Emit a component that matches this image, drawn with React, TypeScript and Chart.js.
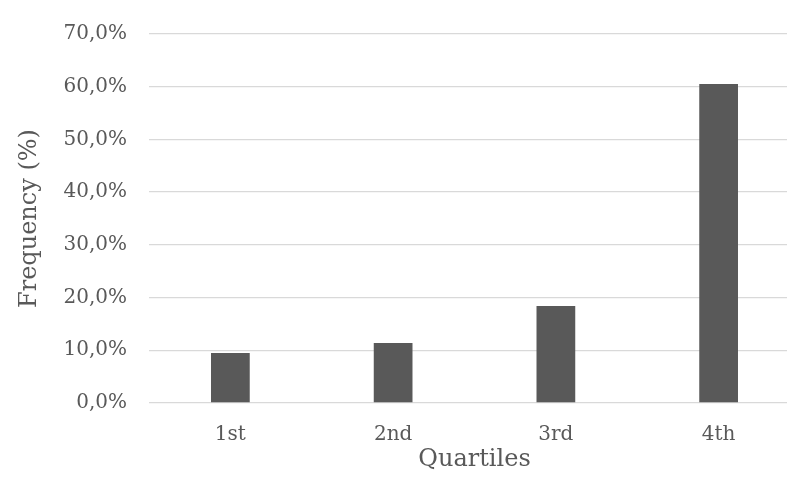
import React, { useEffect, useRef } from "react";
import { Chart, registerables } from "chart.js";

Chart.register(...registerables);

const categories = ["1st", "2nd", "3rd", "4th"];
const frequency = [9.5, 11.4, 18.4, 60.5];
const yTicks = [0, 10, 20, 30, 40, 50, 60, 70];
const xTitle = "Quartiles";
const yTitle = "Frequency (%)";

const FONT = "'DejaVu Serif', serif";
const TEXT = "#595959";

export default function App() {
  const ref = useRef<HTMLCanvasElement | null>(null);
  useEffect(() => {
    if (!ref.current) return;
    const chart = new Chart(ref.current, {
      type: "bar",
      data: {
        labels: categories,
        datasets: [
          {
            data: frequency,
            backgroundColor: "#595959",
            borderWidth: 0,
            categoryPercentage: 1,
            barPercentage: 0.238,
          },
        ],
      },
      options: {
        animation: false,
        responsive: false,
        devicePixelRatio: 1,
        layout: { padding: { top: 27, left: 0, right: 0, bottom: 0 } },
        plugins: { legend: { display: false }, tooltip: { enabled: false } },
        scales: {
          x: {
            afterFit: (s: any) => {
              s.height = 74;
            },
            grid: { display: false, drawTicks: false },
            border: { display: false },
            ticks: { color: TEXT, font: { family: FONT, size: 20 }, padding: 20 },
            title: {
              display: true,
              text: xTitle,
              color: TEXT,
              font: { family: FONT, size: 24 },
              padding: { top: 0, bottom: 3 },
            },
          },
          y: {
            min: 0,
            max: 70,
            afterFit: (s: any) => {
              s.width = 149;
            },
            afterBuildTicks: (axis: any) => {
              axis.ticks = yTicks.map((v) => ({ value: v }));
            },
            grid: { color: "#d9d9d9", lineWidth: 1.3, drawTicks: false },
            border: { display: false },
            ticks: {
              color: TEXT,
              font: { family: FONT, size: 20 },
              padding: 22,
              callback: (v: any) => Number(v).toFixed(1).replace(".", ",") + "%",
            },
            title: {
              display: true,
              text: yTitle,
              color: TEXT,
              font: { family: FONT, size: 24 },
              padding: { top: 15, bottom: 0 },
            },
          },
        },
      },
    });
    return () => chart.destroy();
  }, []);
  return (
    <div
      style={{
        position: "fixed",
        left: 0,
        top: 0,
        width: 787,
        height: 477,
        overflow: "hidden",
        background: "#fff",
      }}
    >
      <canvas ref={ref} width={800} height={477} style={{ display: "block", width: 800, height: 477 }} />
    </div>
  );
}
